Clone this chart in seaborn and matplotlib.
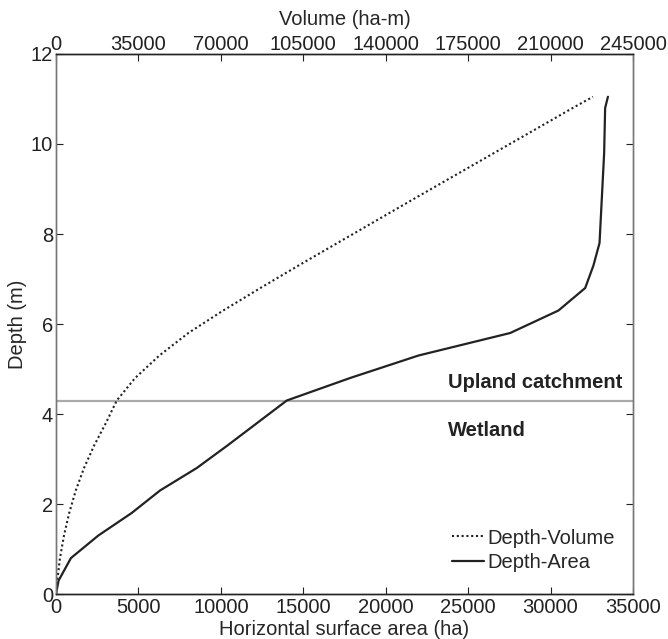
import matplotlib
matplotlib.use("Agg")
import matplotlib.pyplot as plt
import seaborn as sns
import pandas as pd

depth = [0, 0.3, 0.8, 1.3, 1.8, 2.3, 2.8, 3.3, 3.8, 4.3, 4.8, 5.3, 5.8, 6.3, 6.8, 7.3, 7.8, 8.8, 9.8, 10.8, 11.05]
area_ha = [0, 160, 910, 2570, 4590, 6310, 8540, 10400, 12200, 14000, 17840, 21990, 27550, 30480, 32100, 32600, 32970, 33110, 33250, 33310, 33480]
volume_ham = [0, 550, 1700, 3400, 5600, 8400, 11900, 16200, 21200, 25800, 33600, 43900, 56200, 71000, 86800, 103000, 119500, 152600, 186000, 219400, 228000]

area_ticks = [0, 5000, 10000, 15000, 20000, 25000, 30000, 35000]
volume_ticks = [0, 35000, 70000, 105000, 140000, 175000, 210000, 245000]
depth_ticks = [0, 2, 4, 6, 8, 10, 12]
boundary_depth = 4.3

sns.set_theme(style="white")
plt.rcParams['font.family'] = ['Liberation Sans', 'DejaVu Sans']

df_area = pd.DataFrame({"area": area_ha, "depth": depth})
df_vol = pd.DataFrame({"volume": volume_ham, "depth": depth})

fig = plt.figure(figsize=(6.68, 6.39), dpi=100)
ax = fig.add_axes([0.0838, 0.0704, 0.8638, 0.8451])
ax2 = ax.twiny()

sns.lineplot(data=df_vol, x="volume", y="depth", ax=ax2, sort=False, estimator=None,
             color="#222222", linestyle=(0, (1, 1.3)), linewidth=1.5, label="Depth-Volume", legend=False)
sns.lineplot(data=df_area, x="area", y="depth", ax=ax, sort=False, estimator=None,
             color="#222222", linestyle="-", linewidth=1.6, label="Depth-Area", legend=False)

ax.axhline(boundary_depth, color="#aaaaaa", linewidth=1.6, zorder=0)

ax.set_xlim(0, 35000)
ax2.set_xlim(0, 245000)
ax.set_ylim(0, 12)
ax.set_xticks(area_ticks)
ax.set_xticklabels([str(t) for t in area_ticks])
ax2.set_xticks(volume_ticks)
ax2.set_xticklabels([str(t) for t in volume_ticks])
ax.set_yticks(depth_ticks)
ax.set_yticklabels([str(t) for t in depth_ticks])

fs = 14.5
ax.set_xlabel("Horizontal surface area (ha)", fontsize=fs, labelpad=2)
ax.set_ylabel("Depth (m)", fontsize=fs, labelpad=3)
ax2.set_xlabel("Volume (ha-m)", fontsize=fs, labelpad=7)

ax.tick_params(axis="x", direction="in", length=5, width=0.8, labelsize=fs, pad=3, colors="#222222", bottom=True)
ax.tick_params(axis="y", direction="in", length=5, width=0.8, labelsize=fs, pad=2, colors="#222222", left=True, right=True)
ax2.tick_params(axis="x", direction="in", length=5, width=0.8, labelsize=fs, pad=0, colors="#222222", top=True)

for a in (ax, ax2):
    for side in ("left", "right"):
        a.spines[side].set_color("#777777")
        a.spines[side].set_linewidth(1.0)
    for side in ("top", "bottom"):
        a.spines[side].set_color("#222222")
        a.spines[side].set_linewidth(1.0)

ax.text(23800, 4.69, "Upland catchment", fontsize=fs, fontweight="bold", color="#222222", va="center", ha="left")
ax.text(23800, 3.64, "Wetland", fontsize=fs, fontweight="bold", color="#222222", va="center", ha="left")

h2, l2 = ax2.get_legend_handles_labels()
h1, l1 = ax.get_legend_handles_labels()
leg = ax.legend(h2 + h1, l2 + l1, loc="lower right", frameon=False, fontsize=fs,
                handlelength=1.6, handletextpad=0.15, borderaxespad=0.5, labelspacing=0.25,
                bbox_to_anchor=(1.0, 0.008))

fig.savefig("out.png", dpi=100)
